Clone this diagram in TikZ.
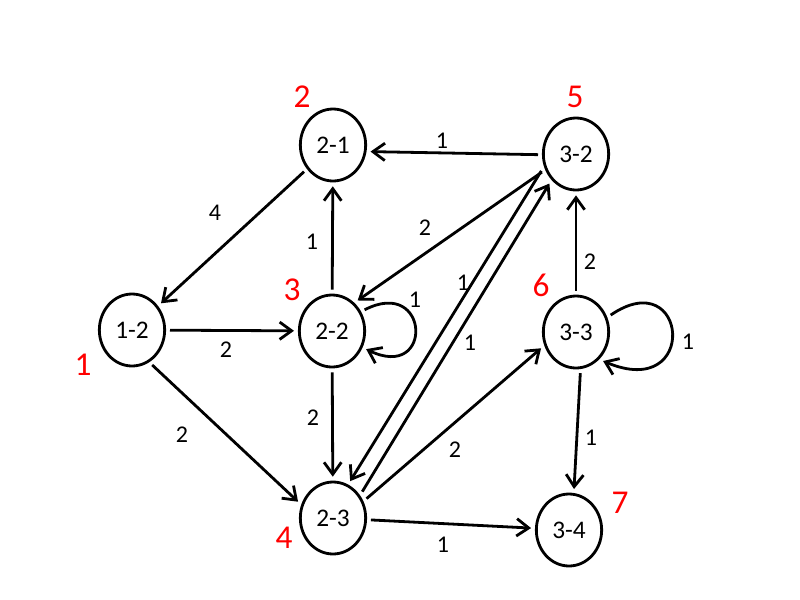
\documentclass[tikz,border=0pt]{standalone}
\usepackage{fontspec}
\setmainfont{Carlito}
\usetikzlibrary{shapes.geometric,arrows.meta}
\begin{document}
\begin{tikzpicture}[x=0.75pt,y=-0.75pt,
  state/.style={ellipse,draw,line width=2.1pt,minimum width=49pt,minimum height=54pt,inner sep=0pt,outer sep=4pt,font=\fontsize{19}{21}\selectfont},
  num/.style={text=red,font=\fontsize{25}{27}\selectfont,inner sep=0pt},
  lbl/.style={font=\fontsize{18}{20}\selectfont,inner sep=0pt},
  edge/.style={line width=2.1pt,-{Straight Barb[length=9pt,width=13pt,line width=2.1pt]}}]
\useasboundingbox (0,0) rectangle (800,600);
\node[state] (n21) at (333,145) {2-1};
\node[state] (n32) at (576,154) {3-2};
\node[state] (n12) at (132,330) {1-2};
\node[state] (n22) at (332,331) {2-2};
\node[state] (n33) at (576,332) {3-3};
\node[state] (n23) at (333,518) {2-3};
\node[state] (n34) at (569,530) {3-4};
% red numbers
\node[num] (r2) at (302,97) {2};
\node[num] (r5) at (575,97) {5};
\node[num] (r3) at (292,290) {3};
\node[num] (r1) at (83,365) {1};
\node[num] (r6) at (541,285) {6};
\node[num] (r4) at (284,538) {4};
\node[num] (r7) at (620,503) {7};
% edges
\draw[edge] (n32.181) -- (n21.-10);
\draw[edge] (n21) -- (n12);
\draw[edge] (n22) -- (n21);
\draw[edge] (n32.208) -- (n22.50);
\draw[edge] (n12) -- (n22);
\draw[edge] (n22) -- (n23);
\draw[edge] (n12.-60) -- (n23.155);
\draw[edge] (n32.206) -- (n23.65);
\draw[edge] (n23.42) -- (n32.228);
\draw[edge] (n23.30) -- (n33.205);
\draw[edge] (n33) -- (n32);
\draw[edge] (n33.-84) -- (n34.83);
\draw[edge] (n23) -- (n34);
\draw[edge] (n22.33) .. controls (430,276) and (434,382) .. (n22.-28);
\draw[edge] (n33.26) .. controls (688,262) and (700,402) .. (n33.-47);
% edge labels
\node[lbl] (l1) at (442,141) {1};
\node[lbl] (l2) at (215,213) {4};
\node[lbl] (l3) at (312,242) {1};
\node[lbl] (l4) at (425,228) {2};
\node[lbl] (l5) at (226,350) {2};
\node[lbl] (l6) at (415,300) {1};
\node[lbl] (l7) at (313,418) {2};
\node[lbl] (l8) at (182,435) {2};
\node[lbl] (l9) at (463,283) {1};
\node[lbl] (l10) at (470,343) {1};
\node[lbl] (l11) at (455,450) {2};
\node[lbl] (l12) at (590,262) {2};
\node[lbl] (l13) at (688,342) {1};
\node[lbl] (l14) at (591,438) {1};
\node[lbl] (l15) at (443,545) {1};
\end{tikzpicture}
\end{document}
